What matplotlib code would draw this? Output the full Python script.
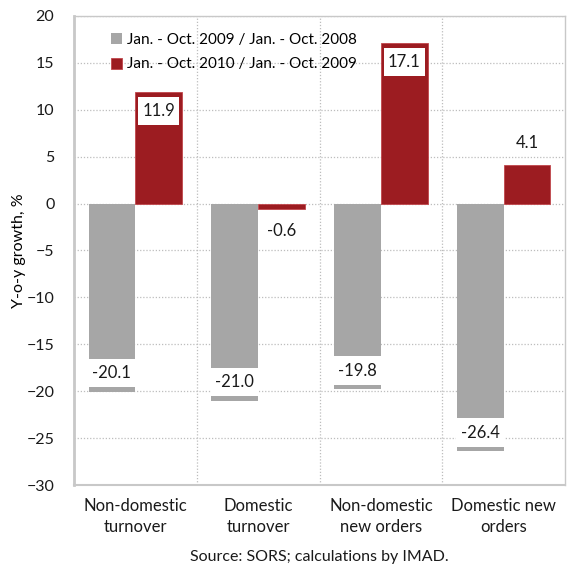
import numpy as np
import matplotlib.pyplot as plt
from matplotlib.patches import Rectangle

plt.rcParams['font.family'] = ['Lato', 'DejaVu Sans']

categories = ['Non-domestic\nturnover', 'Domestic\nturnover',
              'Non-domestic\nnew orders', 'Domestic new\norders']
series_labels = ['Jan. - Oct. 2009 / Jan. - Oct. 2008',
                 'Jan. - Oct. 2010 / Jan. - Oct. 2009']
growth_2009 = [-20.1, -21.0, -19.8, -26.4]
growth_2010 = [11.9, -0.6, 17.1, 4.1]

GREY = '#a6a6a6'
RED = '#9c1c21'
FRAME = '#c8c8c8'

fig = plt.figure(figsize=(5.68, 5.66), dpi=100)
ax = fig.add_axes([0.130, 0.143, 0.865, 0.829])

x = np.arange(len(categories))
w = 0.38
off = 0.19

ax.bar(x - off, growth_2009, w, color=GREY, label=series_labels[0], zorder=2)
ax.bar(x + off, growth_2010, w, color=RED, edgecolor='#c0464b', linewidth=0.6,
       label=series_labels[1], zorder=2)


def put_label(xc, v, inset):
    sign = 1 if v >= 0 else -1
    if abs(v) < 5:
        # short bars: value sits just beyond the bar end
        ax.text(xc, v + sign * 2.3, f'{v:.1f}', ha='center', va='center',
                fontsize=12, color='#1a1a1a', zorder=4)
        return
    yc = v - sign * 2.0
    ax.add_patch(Rectangle((xc - w / 2 + inset, yc - 1.5), w - 2 * inset, 3.0,
                           facecolor='white', edgecolor='none', zorder=3))
    ax.text(xc, yc, f'{v:.1f}', ha='center', va='center',
            fontsize=12, color='#1a1a1a', zorder=4)


for i in range(len(categories)):
    put_label(x[i] - off, growth_2009[i], -0.005)
    put_label(x[i] + off, growth_2010[i], 0.025)

ax.set_xlim(-0.5, 3.5)
ax.set_ylim(-30, 20)
ax.set_yticks(np.arange(-30, 21, 5))
ax.set_xticks(x)
ax.set_xticklabels(categories, linespacing=1.4)
ax.set_xticks(np.arange(0.5, 3.5, 1), minor=True)
ax.tick_params(axis='both', which='both', length=0, colors='#1a1a1a')
ax.tick_params(axis='y', pad=14, labelsize=11.5)
ax.tick_params(axis='x', pad=9, labelsize=12)

ax.grid(True, axis='y', linestyle=(0, (1, 1.5)), color='#bdbdbd', linewidth=0.9, zorder=0)
ax.grid(True, axis='x', which='minor', linestyle=(0, (1, 1.5)), color='#bdbdbd',
        linewidth=0.9, zorder=0)
ax.set_axisbelow(True)

for s in ax.spines.values():
    s.set_color(FRAME)
    s.set_linewidth(1.0)
ax.spines['left'].set_linewidth(2.0)
ax.spines['bottom'].set_linewidth(1.5)

ax.set_ylabel('Y-o-y growth, %', fontsize=11.5, labelpad=0)

ax.legend(loc='upper left', bbox_to_anchor=(0.05, 0.99), frameon=False,
          fontsize=11, handlelength=0.75, handleheight=0.75, handletextpad=0.3,
          labelspacing=0.7, borderaxespad=0.4)

fig.text(0.5625, 0.004, 'Source: SORS; calculations by IMAD.', ha='center',
         va='bottom', fontsize=11.5, color='#1a1a1a')

fig.savefig('out.png', dpi=100)
